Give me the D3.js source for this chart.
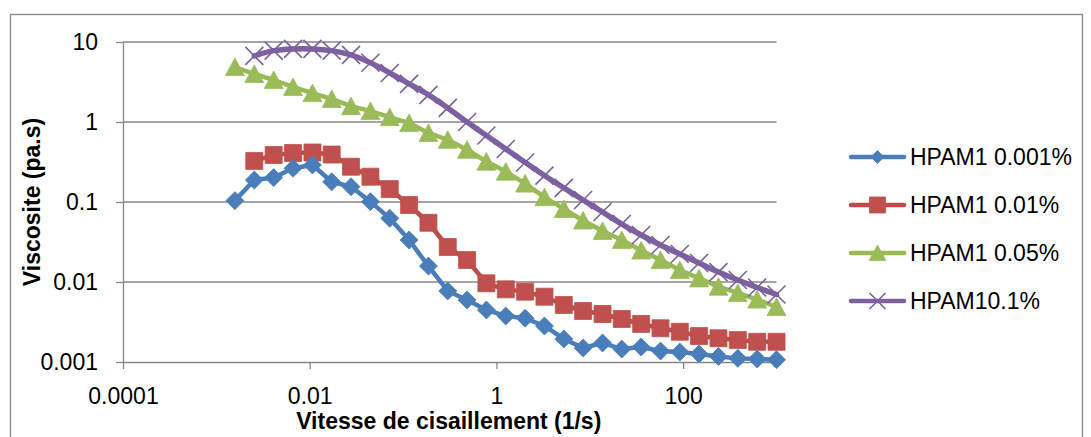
<!DOCTYPE html>
<html>
<head>
<meta charset="utf-8">
<script src="https://cdn.jsdelivr.net/npm/d3@7"></script>
<style>
  body { margin: 0; background: #fff; }
  svg { display: block; }
  text { font-family: "Liberation Sans", Arial, sans-serif; fill: #000; }
</style>
</head>
<body>
<svg id="chart" width="1091" height="437"></svg>
<script>
// Shear rate sweep (1/s)
const shearRate = [0.00158, 0.00255, 0.00411, 0.00663, 0.0107, 0.0172, 0.0277, 0.0447, 0.0720, 0.116,
                   0.187, 0.301, 0.485, 0.781, 1.26, 2.03, 3.27, 5.27, 8.48, 13.7,
                   22.0, 35.5, 57.2, 92.1, 148, 239, 385, 621, 1000];

// Viscosity (Pa.s) for each solution; null = not measured at that rate
const hpam0001 = [0.104, 0.188, 0.202, 0.264, 0.290, 0.179, 0.155, 0.101, 0.0625, 0.0335,
                  0.0158, 0.00772, 0.00596, 0.00447, 0.00376, 0.00352, 0.00282, 0.00194, 0.00150, 0.00173,
                  0.00145, 0.00154, 0.00137, 0.00133, 0.00126, 0.00117, 0.00111, 0.00109, 0.00107];
const hpam001 = [null, 0.326, 0.387, 0.410, 0.416, 0.392, 0.276, 0.207, 0.145, 0.0917,
                 0.0550, 0.0274, 0.0188, 0.00963, 0.00810, 0.00757, 0.00655, 0.00516, 0.00434, 0.00398,
                 0.00345, 0.00299, 0.00264, 0.00239, 0.00211, 0.00198, 0.00188, 0.00179, 0.00179];
const hpam005 = [4.87, 3.98, 3.35, 2.74, 2.30, 1.94, 1.58, 1.37, 1.15, 0.97,
                 0.73, 0.60, 0.45, 0.32, 0.24, 0.17, 0.115, 0.082, 0.0587, 0.0434,
                 0.0335, 0.0248, 0.0188, 0.0141, 0.0111, 0.00874, 0.00729, 0.00604, 0.00487];
const hpam01 = [null, 6.7, 7.8, 8.2, 8.2, 7.8, 6.9, 5.5, 4.1, 3.0,
                2.18, 1.50, 1.00, 0.678, 0.460, 0.312, 0.214, 0.150, 0.106, 0.075,
                0.053, 0.0387, 0.029, 0.0224, 0.0173, 0.0133, 0.0106, 0.00853, 0.00698];

const seriesNames = ["HPAM1 0.001%", "HPAM1 0.01%", "HPAM1 0.05%", "HPAM10.1%"];

const xTickValues = [0.0001, 0.01, 1, 100];
const xTickLabels = ["0.0001", "0.01", "1", "100"];
const yTickValues = [0.001, 0.01, 0.1, 1, 10];
const yTickLabels = ["0.001", "0.01", "0.1", "1", "10"];

const xTitle = "Vitesse de cisaillement (1/s)";
const yTitle = "Viscosite (pa.s)";

// ---- layout & style ----
const plot = { left: 123, right: 776.5, top: 42, bottom: 362 };
const gridColor = "#878787";

const series = [
  { name: seriesNames[0], values: hpam0001, line: "#4A7EBB", fill: "#4A7EBB", marker: "diamond", curve: d3.curveLinear },
  { name: seriesNames[1], values: hpam001,  line: "#BE4B48", fill: "#C0504D", marker: "square",  curve: d3.curveLinear },
  { name: seriesNames[2], values: hpam005,  line: "#98B954", fill: "#9BBB59", marker: "triangle", curve: d3.curveLinear },
  { name: seriesNames[3], values: hpam01,   line: "#7D60A0", fill: "#7D60A0", marker: "x", curve: d3.curveCatmullRom.alpha(0.5) }
];

const svg = d3.select("#chart");
svg.append("rect").attr("width", 1091).attr("height", 437).attr("fill", "#fff");

// chart frame
svg.append("rect")
  .attr("x", 10.5).attr("y", 14.5).attr("width", 1072).attr("height", 440)
  .attr("fill", "none").attr("stroke", gridColor).attr("stroke-width", 1.3);

const x = d3.scaleLog().domain([1e-4, 1e3]).range([plot.left, plot.right]);
const y = d3.scaleLog().domain([1e-3, 10]).range([plot.bottom, plot.top]);

// horizontal gridlines
svg.append("g").selectAll("line").data(yTickValues.slice(1)).join("line")
  .attr("x1", plot.left).attr("x2", plot.right)
  .attr("y1", d => y(d)).attr("y2", d => y(d))
  .attr("stroke", gridColor).attr("stroke-width", 1.3);

// axes
const yAxis = d3.axisLeft(y).tickValues(yTickValues)
  .tickFormat((d, i) => yTickLabels[i]).tickSizeInner(7).tickSizeOuter(0).tickPadding(18);
const xAxis = d3.axisBottom(x).tickValues(xTickValues)
  .tickFormat((d, i) => xTickLabels[i]).tickSizeInner(7).tickSizeOuter(0).tickPadding(19);

function styleAxis(g) {
  g.select(".domain").attr("stroke", gridColor).attr("stroke-width", 1.3);
  g.selectAll(".tick line").attr("stroke", gridColor).attr("stroke-width", 1.3);
  g.selectAll(".tick text").attr("font-size", 23)
    .style("font-family", '"Liberation Sans", Arial, sans-serif').attr("fill", "#000");
}
svg.append("g").attr("transform", `translate(${plot.left},0)`).call(yAxis).call(styleAxis);
svg.append("g").attr("transform", `translate(0,${plot.bottom})`).call(xAxis).call(styleAxis);

// axis titles
svg.append("text").attr("x", (plot.left + plot.right) / 2 - 1).attr("y", 429)
  .attr("text-anchor", "middle").attr("font-size", 23).attr("font-weight", "bold").text(xTitle);
svg.append("text").attr("transform", `translate(40,${(plot.top + plot.bottom) / 2}) rotate(-90)`)
  .attr("text-anchor", "middle").attr("font-size", 23).attr("font-weight", "bold").text(yTitle);

// marker shapes (relative to the point)
function markerPath(kind, s) {
  if (kind === "diamond") return `M0,${-s}L${s},0L0,${s}L${-s},0Z`;
  if (kind === "square") return `M${-s},${-s}H${s}V${s}H${-s}Z`;
  if (kind === "triangle") return `M0,${-s}L${s * 1.05},${s * 0.95}L${-s * 1.05},${s * 0.95}Z`;
  return `M${-s},${-s}L${s},${s}M${-s},${s}L${s},${-s}`;
}
const markerSize = { diamond: 9, square: 8.5, triangle: 9, x: 9 };

function drawSeries(s) {
  const pts = shearRate.map((r, i) => ({ r, v: s.values[i] })).filter(p => p.v != null);
  const g = svg.append("g");
  g.append("path").datum(pts)
    .attr("d", d3.line().x(p => x(p.r)).y(p => y(p.v)).curve(s.curve))
    .attr("fill", "none").attr("stroke", s.line)
    .attr("stroke-width", s.marker === "x" ? 5.5 : 4.5)
    .attr("stroke-linejoin", "round").attr("stroke-linecap", "round");
  g.selectAll("path.m").data(pts).join("path").attr("class", "m")
    .attr("transform", p => `translate(${x(p.r)},${y(p.v)})`)
    .attr("d", markerPath(s.marker, markerSize[s.marker]))
    .attr("fill", s.marker === "x" ? "none" : s.fill)
    .attr("stroke", s.fill)
    .attr("stroke-width", s.marker === "x" ? 1.6 : 0.8);
}
// drawing order keeps the blue diamonds above the red squares
[1, 0, 2, 3].forEach(i => drawSeries(series[i]));

// legend
const legend = svg.append("g");
const legendRows = [157, 205, 253, 301];
series.forEach((s, i) => {
  const ly = legendRows[i];
  const row = legend.append("g").attr("transform", `translate(0,${ly})`);
  row.append("line").attr("x1", 851).attr("x2", 904).attr("y1", 0).attr("y2", 0)
    .attr("stroke", s.line).attr("stroke-width", 4.5).attr("stroke-linecap", "round");
  const ms = s.marker === "diamond" ? 6.5 : 8;
  row.append("path").attr("transform", "translate(877.5,0)")
    .attr("d", markerPath(s.marker, ms))
    .attr("fill", s.marker === "x" ? "none" : s.fill)
    .attr("stroke", s.fill).attr("stroke-width", s.marker === "x" ? 1.6 : 0.8);
  row.append("text").attr("x", 910).attr("y", 0).attr("dy", "0.35em")
    .attr("font-size", 23).text(s.name);
});
</script>
</body>
</html>
